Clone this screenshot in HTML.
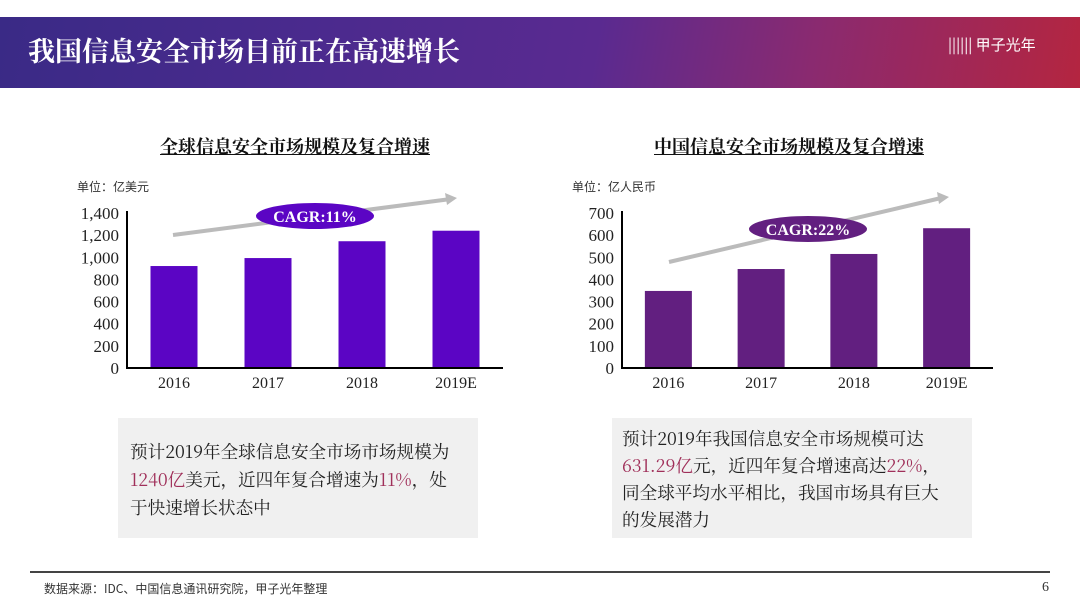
<!DOCTYPE html>
<html><head><meta charset="utf-8">
<style>
body{margin:0;width:1080px;height:608px;background:#fff;position:relative;overflow:hidden;font-family:"Liberation Serif","Noto Serif CJK SC",serif;}
.abs{position:absolute;}
.hdr{left:0;top:17px;width:1080px;height:71px;background:linear-gradient(100deg,#3a2a86 0%,#4b2a8e 30%,#5a2a90 55%,#8a2a70 75%,#b42540 100%);}
.title{left:28px;top:30px;color:#fff;font-size:27px;font-weight:bold;font-family:"Noto Serif CJK SC",serif;letter-spacing:0px;}
.ct{font-size:18px;font-weight:bold;text-decoration:underline;color:#111;font-family:"Noto Serif CJK SC",serif;}
.box{background:#f0f0f0;font-size:17.6px;line-height:28px;color:#222;font-family:"Noto Serif CJK SC",serif;box-sizing:border-box;white-space:nowrap;}
.r{color:#a0305a;}
</style></head><body>
<div class="abs hdr"></div>
<div class="abs title">我国信息安全市场目前正在高速增长</div>
<div class="abs" style="left:948px;top:34px;color:#fff;font-size:15px;font-family:'Noto Sans CJK SC',sans-serif">|||||| 甲子光年</div>
<div class="abs ct" style="left:160px;top:133px">全球信息安全市场规模及复合增速</div>
<div class="abs ct" style="left:654px;top:133px">中国信息安全市场规模及复合增速</div>
<svg class="abs" style="left:0;top:0" width="1080" height="608" id="charts"></svg>
<div class="abs box" style="left:118px;top:418px;width:360px;height:120px;padding:20px 0 0 12px">预计2019年全球信息安全市场市场规模为<br><span class="r">1240亿</span>美元，近四年复合增速为<span class="r">11%</span>，处<br>于快速增长状态中</div>
<div class="abs box" style="left:612px;top:418px;width:360px;height:120px;padding:7px 0 0 10px;line-height:27px">预计2019年我国信息安全市场规模可达<br><span class="r">631.29亿</span>元，近四年复合增速高达<span class="r">22%</span>，<br>同全球平均水平相比，我国市场具有巨大<br>的发展潜力</div>
<div class="abs" style="left:30px;top:571px;width:1020px;height:2px;background:#444"></div>
<div class="abs" style="left:44px;top:580px;font-size:12px;color:#333;font-family:'Noto Sans CJK SC',sans-serif">数据来源：IDC、中国信息通讯研究院，甲子光年整理</div>
<div class="abs" style="left:1042px;top:580px;font-size:14px;color:#333">6</div>
<script>
const categories=["2016","2017","2018","2019E"];
const globalValues=[921,993,1145,1240];
const chinaValues=[348,447,515,631.29];
const globalTicks=["0","200","400","600","800","1,000","1,200","1,400"];
const chinaTicks=["0","100","200","300","400","500","600","700"];
const NS="http://www.w3.org/2000/svg";
const svg=document.getElementById('charts');
function mk(t,a){const e=document.createElementNS(NS,t);for(const k in a)e.setAttribute(k,a[k]);svg.appendChild(e);return e;}
function chart(o){
 const y=v=>o.base-v/o.max*(o.base-o.top);
 const u=mk('text',{x:o.ax-50,y:191,'font-size':12,fill:'#333','font-family':'Noto Sans CJK SC,sans-serif'});u.textContent=o.unit;
 
 
 o.ticks.forEach((t,i)=>{const v=o.max*i/(o.ticks.length-1);
  const e=mk('text',{x:o.ax-8,y:y(v)+6,'text-anchor':'end','font-size':17,fill:'#222'});e.textContent=t;
  
  });
 const step=(o.end-o.ax)/o.vals.length;
 o.vals.forEach((v,i)=>{const cx=o.ax+step*(i+0.5);
  const b=mk('rect',{x:cx-23.5,y:y(v),width:47,height:o.base-y(v),fill:o.color});
  
  
  const l=mk('text',{x:cx,y:o.base+20,'text-anchor':'middle','font-size':16,fill:'#222'});l.textContent=categories[i];
  
  });
 const ax=mk('path',{d:`M${o.ax} ${o.top-2}V${o.base}H${o.end}`,stroke:'#000','stroke-width':2,fill:'none'});
 
 
 const ar=mk('line',{x1:o.a[0],y1:o.a[1],x2:o.a[2]-10,y2:o.a[3]+1.5,stroke:'#bbb','stroke-width':4});
 
 
 mk('polygon',{points:`${o.a[2]},${o.a[3]} ${o.a[2]-12},${o.a[3]-5} ${o.a[2]-10},${o.a[3]+7}`,fill:'#bbb'});
 const el=mk('ellipse',{cx:o.e[0],cy:o.e[1],rx:59,ry:13,fill:o.color});
 
 
 const t=mk('text',{x:o.e[0],y:o.e[1]+6,'text-anchor':'middle','font-size':16,'font-weight':'bold',fill:'#fff'});t.textContent=o.cagr;
}
chart({id:'global',ax:127,end:503,base:368,top:213,max:1400,vals:globalValues,ticks:globalTicks,color:'#5b05c4',unit:'单位：亿美元',a:[173,235,457,198],e:[315,216],cagr:'CAGR:11%'});
chart({id:'china',ax:622,end:993,base:368,top:213,max:700,vals:chinaValues,ticks:chinaTicks,color:'#621f80',unit:'单位：亿人民币',a:[669,262,949,197],e:[808,229],cagr:'CAGR:22%'});
</script>
</body></html>
